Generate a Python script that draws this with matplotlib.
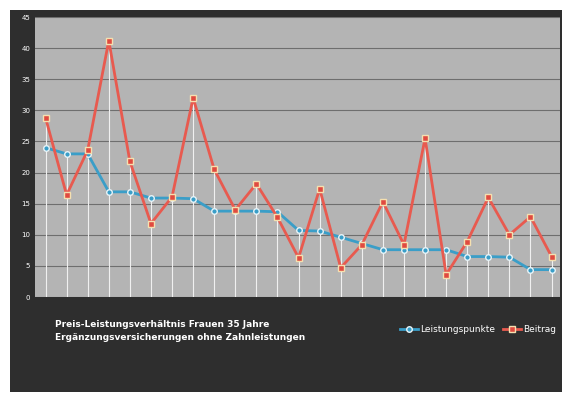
import matplotlib
matplotlib.use("Agg")
import matplotlib.pyplot as plt
from matplotlib.patches import Rectangle

leistung = [24, 23, 23, 16.9, 16.9, 15.9, 15.9, 15.8, 13.8, 13.8, 13.8, 13.7, 10.7,
            10.6, 9.6, 8.6, 7.6, 7.6, 7.6, 7.6, 6.5, 6.5, 6.4, 4.4, 4.4]
beitrag = [28.8, 16.4, 23.6, 41.2, 21.8, 11.8, 16.1, 32, 20.5, 14, 18.2, 12.8, 6.3,
           17.4, 4.7, 8.4, 15.3, 8.4, 25.5, 3.6, 8.9, 16, 10, 12.9, 6.5]
yticks = list(range(0, 50, 5))
title = "Preis-Leistungsverhältnis Frauen 35 Jahre\nErgänzungsversicherungen ohne Zahnleistungen"

fig = plt.figure(figsize=(5.68, 4.0), dpi=100)
fig.patch.set_facecolor("white")
bg = fig.add_axes([10/568, 8/400, 552/568, 382/400], zorder=-5)
bg.set_facecolor("#2e2e2e")
bg.set_xticks([]); bg.set_yticks([])
for s in bg.spines.values():
    s.set_visible(False)

ax = fig.add_axes([35/568, 1-297/400, 525/568, 280/400], zorder=1)
ax.set_facecolor("#b4b4b4")
x = list(range(len(beitrag)))
for xi, v in zip(x, [max(a, b) for a, b in zip(leistung, beitrag)]):
    ax.plot([xi, xi], [0, v], color="#f0f0f0", lw=0.8, zorder=1)
ax.plot(x, leistung, color="#3a9ec8", lw=2, marker="o", ms=4, mfc="#3a9ec8",
        mec="#e8f4f8", zorder=3, label="Leistungspunkte")
ax.plot(x, beitrag, color="#e85a4f", lw=2, marker="s", ms=5, mfc="#e04a3f",
        mec="#f5e0b0", zorder=4, label="Beitrag")
ax.set_ylim(0, 45)
ax.set_xlim(-0.5, len(x) - 0.6)
ax.set_yticks(yticks)
ax.tick_params(axis="y", colors="white", labelsize=5, length=0)
ax.set_xticks([])
ax.grid(axis="y", color="#6e6e6e", lw=0.8)
ax.set_axisbelow(True)
for s in ax.spines.values():
    s.set_visible(False)
fig.text(55/568, 1-331/400, title, color="white", fontsize=6.5, fontweight="bold",
         ha="left", va="center", linespacing=1.5, zorder=5)
leg = fig.legend(loc="center", bbox_to_anchor=(478/568, 1-330/400), ncol=2, frameon=False,
                 fontsize=6.5, labelcolor="white", handlelength=2, columnspacing=0.8,
                 handletextpad=0.3)
fig.savefig("out.png", dpi=100, facecolor="white")
